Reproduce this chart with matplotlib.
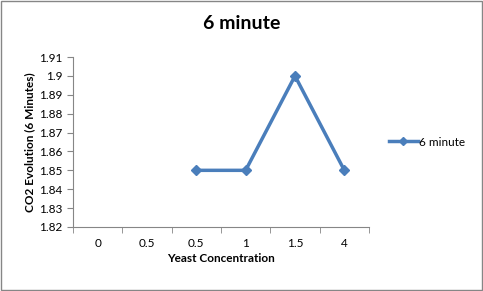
import numpy as np
import matplotlib.pyplot as plt
from matplotlib.patches import Rectangle

plt.rcParams['font.family'] = ['Lato', 'DejaVu Sans']

categories = ['0', '0.5', '0.5', '1', '1.5', '4']
co2_6min = [np.nan, np.nan, 1.85, 1.85, 1.90, 1.85]
y_ticks = [1.82, 1.83, 1.84, 1.85, 1.86, 1.87, 1.88, 1.89, 1.9, 1.91]
series_color = '#4A7EBB'

fig = plt.figure(figsize=(4.83, 2.91), dpi=100)
ax = fig.add_axes([0.151, 0.22, 0.613, 0.584])

x = np.arange(len(categories))
ax.plot(x, co2_6min, color=series_color, lw=2.5, marker='D', ms=5,
        label='6 minute')

ax.set_xlim(-0.5, len(categories) - 0.5)
ax.set_ylim(1.82, 1.91)
ax.set_yticks(y_ticks)
ax.set_yticklabels([f'{v:g}' for v in y_ticks], fontsize=8.5)
ax.set_xticks(x)
ax.set_xticklabels(categories, fontsize=8.5)
ax.set_xticks(np.arange(len(categories) + 1) - 0.5, minor=True)
ax.tick_params(axis='x', which='major', length=0, pad=8)
ax.tick_params(axis='x', which='minor', length=4, color='#868686')
ax.tick_params(axis='y', length=4, color='#868686')

for side in ['top', 'right']:
    ax.spines[side].set_visible(False)
for side in ['left', 'bottom']:
    ax.spines[side].set_color('#868686')

ax.set_xlabel('Yeast Concentration', fontsize=8.5, fontweight='bold',
              labelpad=3)
ax.set_ylabel('CO2 Evolution (6 Minutes)', fontsize=8.5, fontweight='bold',
              labelpad=3)
fig.suptitle('6 minute', fontsize=14, fontweight='bold', y=0.95)

ax.legend(loc='center left', bbox_to_anchor=(1.03, 0.5), frameon=False,
          fontsize=8.5, handlelength=2.5, handletextpad=0.1, markerscale=0.8)

fig.patches.append(Rectangle((0.002, 0.003), 0.995, 0.994,
                             transform=fig.transFigure, fill=False,
                             edgecolor='#868686', lw=1))

fig.savefig('out.png', dpi=100)
